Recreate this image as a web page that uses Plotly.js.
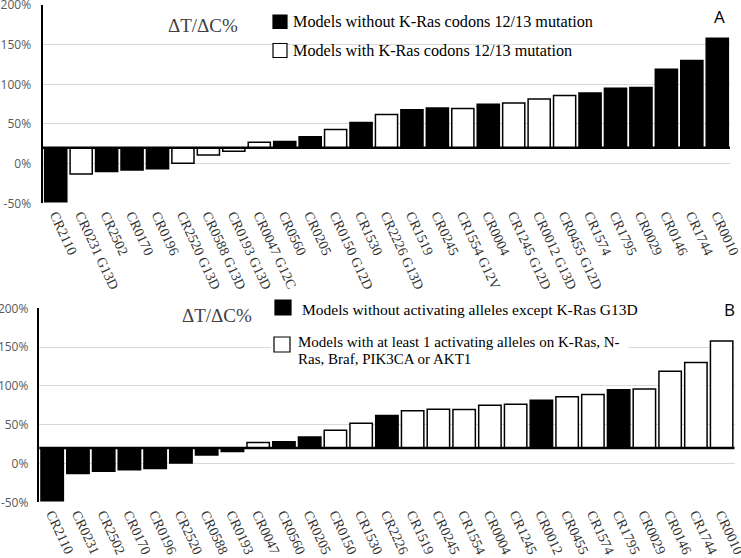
<!DOCTYPE html>
<html>
<head>
<meta charset="utf-8">
<script src="https://cdn.plot.ly/plotly-3.0.1.min.js"></script>
<style>html,body{margin:0;padding:0;background:#fff;}#chart{width:741px;height:558px;}</style>
</head>
<body>
<div id="chart"></div>
<script>
// Data
const labelsA = ["CR2110","CR0231 G13D","CR2502","CR0170","CR0196","CR2520 G13D","CR0588 G13D","CR0193 G13D","CR0047 G12C","CR0560","CR0205","CR0150 G12D","CR1530","CR2226 G13D","CR1519","CR0245","CR1554 G12V","CR0004","CR1245 G12D","CR0012 G13D","CR0455 G12D","CR1574","CR1795","CR0029","CR0146","CR1744","CR0010"];
const labelsB = ["CR2110","CR0231","CR2502","CR0170","CR0196","CR2520","CR0588","CR0193","CR0047","CR0560","CR0205","CR0150","CR1530","CR2226","CR1519","CR0245","CR1554","CR0004","CR1245","CR0012","CR0455","CR1574","CR1795","CR0029","CR0146","CR1744","CR0010"];
const values = [-48, -13, -10, -8, -6.5, 0.5, 11, 15.5, 27, 28, 34, 43, 52, 62, 68, 70, 69.5, 75, 76.5, 81.5, 86, 89, 95, 96, 119, 130, 158];
// 1 = black (group 1), 0 = white (group 2)
const groupA = [1,0,1,1,1,0,0,0,0,1,1,0,1,0,1,1,0,1,0,0,0,1,1,1,1,1,1];
const groupB = [1,1,1,1,1,1,1,1,0,1,1,0,0,1,0,0,0,0,0,1,0,0,1,0,0,0,0];
const baseValue = 20; // horizontal axis crossing value
const yTicks = [-50, 0, 50, 100, 150, 200];

const W = 741, H = 558;
const px = v => v / W;
const py = v => 1 - v / H;

const colorOf = g => g.map(v => v ? "#000000" : "#ffffff");

const traceA = {
  type: "bar", x: labelsA, y: values.map(v => v - baseValue), base: baseValue,
  xaxis: "x", yaxis: "y",
  marker: {color: colorOf(groupA), line: {color: "#000", width: 1.5}},
  hoverinfo: "skip", showlegend: false
};
const traceB = {
  type: "bar", x: labelsB, y: values.map(v => v - baseValue), base: baseValue,
  xaxis: "x2", yaxis: "y2",
  marker: {color: colorOf(groupB), line: {color: "#000", width: 1.5}},
  hoverinfo: "skip", showlegend: false
};

const xTickFont = {family: "Liberation Serif, Times New Roman, serif", size: 14, color: "#333"};
const yTickFont = {family: "Open Sans, sans-serif", size: 12, color: "#595959"};

function xaxisCfg(domain, anchor) {
  return {domain: domain, anchor: anchor, type: "category", tickangle: 65,
    tickfont: xTickFont, showgrid: false, showline: false, zeroline: false,
    ticks: "", automargin: false, range: [-0.5, 26.5], fixedrange: true};
}
function yaxisCfg(domain, anchor, standoff) {
  return {domain: domain, anchor: anchor, range: [-50, 200], tickvals: yTicks,
    ticktext: yTicks.map(v => v + "%"), tickfont: yTickFont,
    showgrid: true, gridcolor: "#d9d9d9", gridwidth: 1,
    showline: true, linecolor: "#000", linewidth: 2.5, zeroline: false,
    ticks: "", ticklabelstandoff: standoff, ticklabeloverflow: "allow",
    automargin: false, fixedrange: true};
}

const serif = "Liberation Serif, Times New Roman, serif";
const sans = "Open Sans, sans-serif";
function ann(text, x, y, size, color, family) {
  return {text: text, xref: "paper", yref: "paper", x: px(x), y: py(y),
    xanchor: "left", yanchor: "middle", showarrow: false,
    font: {family: family || serif, size: size, color: color || "#000"}};
}
function sq(x0, y0, x1, y1, fill) {
  return {type: "rect", xref: "paper", yref: "paper", x0: px(x0), x1: px(x1),
    y0: py(y1), y1: py(y0), fillcolor: fill, line: {color: "#000", width: 1.2}, layer: "above"};
}

const layout = {
  width: W, height: H,
  margin: {l: 0, r: 0, t: 0, b: 0},
  paper_bgcolor: "#fff", plot_bgcolor: "#fff",
  bargap: 0.13, showlegend: false,
  xaxis: xaxisCfg([px(43), px(730)], "y"),
  yaxis: yaxisCfg([py(203.3), py(5)], "x", 7),
  xaxis2: xaxisCfg([px(39.3), px(734.5)], "y2"),
  yaxis2: yaxisCfg([py(502.3), py(308.3)], "x2", 6),
  shapes: [
    {type: "line", xref: "x domain", yref: "y", x0: 0, x1: 1, y0: baseValue, y1: baseValue,
     line: {color: "#000", width: 2.5}, layer: "above"},
    {type: "line", xref: "x2 domain", yref: "y2", x0: 0, x1: 1, y0: baseValue, y1: baseValue,
     line: {color: "#000", width: 2.5}, layer: "above"},
    // legend A
    sq(273, 15, 287, 28.5, "#000"),
    sq(273, 43.5, 287, 57.5, "#fff"),
    // legend B background
    {type: "rect", xref: "paper", yref: "paper", x0: px(271), x1: px(628), y0: py(366), y1: py(298),
     fillcolor: "#fff", line: {width: 0}, layer: "above"},
    sq(275, 300, 291, 315, "#000"),
    sq(274, 337, 290, 352, "#fff")
  ],
  annotations: [
    ann("ΔT/ΔC%", 166, 25.5, 19, "#404040"),
    ann("Models without K-Ras codons 12/13 mutation", 291, 22, 16.2),
    ann("Models with K-Ras codons 12/13 mutation", 291, 51, 16.2),
    ann("A", 712, 16, 17, "#000", sans),
    ann("ΔT/ΔC%", 180, 315, 19, "#404040"),
    ann("Models without activating alleles except K-Ras G13D", 300, 309, 15.5),
    ann("Models with at least 1 activating alleles on K-Ras, N-", 296, 341.5, 15),
    ann("Ras, Braf, PIK3CA or AKT1", 296, 358.5, 15),
    ann("B", 722, 309, 17, "#000", sans)
  ]
};

Plotly.newPlot("chart", [traceA, traceB], layout, {staticPlot: true, displayModeBar: false});
</script>
</body>
</html>
